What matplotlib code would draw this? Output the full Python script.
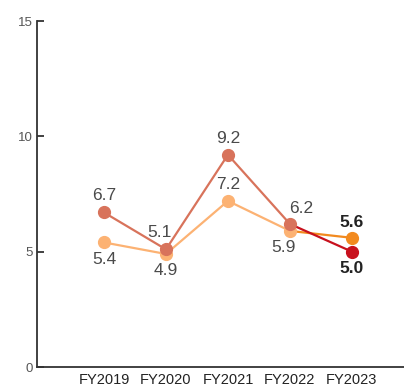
import matplotlib.pyplot as plt

years = ["FY2019", "FY2020", "FY2021", "FY2022", "FY2023"]
upper = [6.7, 5.1, 9.2, 6.2, 5.0]
lower = [5.4, 4.9, 7.2, 5.9, 5.6]

# label offsets in points (dx, dy) for each value
upper_off = [(0, 12), (-5, 12), (0, 12), (8, 11), (0, -12)]
lower_off = [(0, -12), (0, -12), (0, 12), (-5, -12), (0, 11)]

c_upper, c_upper_last = "#d8735b", "#c8111d"
c_lower, c_lower_last = "#fcb273", "#f28a1f"

plt.rcParams['font.family'] = ['Liberation Sans', 'DejaVu Sans']

fig = plt.figure(figsize=(4.04, 3.89), dpi=100)
ax = fig.add_axes([37 / 404, 22 / 389, 367 / 404, 346 / 389])

x = list(range(len(years)))
ms, lw = 8.5, 1.6

# last segment of each series drawn in its own colour
ax.plot(x[3:], lower[3:], color=c_lower_last, lw=lw, zorder=2)
ax.plot(x[:4], lower[:4], color=c_lower, lw=lw, marker="o", ms=ms, zorder=3)
ax.plot(x[4], lower[4], color=c_lower_last, marker="o", ms=ms, zorder=3)
ax.plot(x[3:], upper[3:], color=c_upper_last, lw=lw, zorder=2)
ax.plot(x[:4], upper[:4], color=c_upper, lw=lw, marker="o", ms=ms, zorder=4)
ax.plot(x[4], upper[4], color=c_upper_last, marker="o", ms=ms, zorder=4)

for vals, offs in ((upper, upper_off), (lower, lower_off)):
    for i, (v, (dx, dy)) in enumerate(zip(vals, offs)):
        last = i == len(vals) - 1
        ax.annotate(f"{v:.1f}", (i, v), xytext=(dx, dy), textcoords="offset points",
                    ha="center", va="center", fontsize=12.5,
                    color="#222222" if last else "#4a4a4a",
                    fontweight="bold" if last else "normal")

ax.set_xlim(-1.08, 4.84)
ax.set_ylim(0, 15)
ax.set_yticks([0, 5, 10, 15])
ax.set_xticks(x)
ax.set_xticklabels(years)
for s in ("top", "right"):
    ax.spines[s].set_visible(False)
for s in ("left", "bottom"):
    ax.spines[s].set_color("#333333")
    ax.spines[s].set_linewidth(1.3)
ax.tick_params(axis="y", direction="in", length=5, width=1.3, color="#333333",
               labelsize=9.5, labelcolor="#555555", pad=3)
ax.tick_params(axis="x", length=0, labelsize=10.5, labelcolor="#222222", pad=4)

fig.savefig("out.png", dpi=100)
